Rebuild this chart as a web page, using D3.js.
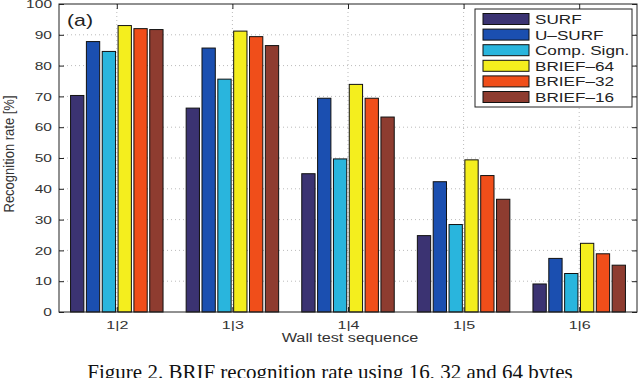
<!DOCTYPE html>
<html><head><meta charset="utf-8">
<script src="https://cdn.jsdelivr.net/npm/d3@7"></script>
<style>body{margin:0;background:#fff}svg{display:block}</style>
</head><body>
<svg id="c" width="640" height="378"></svg>
<script>
const categories = ["1|2","1|3","1|4","1|5","1|6"];
const seriesNames = ["SURF","U\u2013SURF","Comp. Sign.","BRIEF\u201364","BRIEF\u201332","BRIEF\u201316"];
const surf    = [70.3, 66.2, 44.9, 24.8, 9.1];
const usurf   = [87.8, 85.7, 69.4, 42.3, 17.4];
const comp    = [84.6, 75.6, 49.7, 28.4, 12.5];
const brief64 = [93.0, 91.2, 73.9, 49.4, 22.3];
const brief32 = [92.0, 89.4, 69.4, 44.3, 18.9];
const brief16 = [91.7, 86.5, 63.3, 36.6, 15.2];
const yTicks = [0,10,20,30,40,50,60,70,80,90,100];
const colors = ["#3b3372","#1b4fb0","#29b5dd","#f4ee1e","#f04e1a","#8e3c30"];
const series = [surf, usurf, comp, brief64, brief32, brief16];

const SANS = "Liberation Sans, Arial, Helvetica, sans-serif";
function stretch(sel, k) {
  sel.each(function () {
    const w = this.getComputedTextLength();
    this.setAttribute("textLength", w * k);
    this.setAttribute("lengthAdjust", "spacingAndGlyphs");
  });
}

const svg = d3.select("#c");
const L = 59, R = 637, T = 4, B = 312;
const xc = d3.scalePoint().domain(categories).range([L, R]).padding(0.5);
const y = d3.scaleLinear().domain([0,100]).range([B, T]);
const groupW = (R - L) / categories.length * 0.8;
const xs = d3.scaleBand().domain(d3.range(series.length)).range([-groupW/2, groupW/2]).paddingInner(0.16);

// grid
const g = svg.append("g");
g.selectAll("line.hg").data(yTicks.slice(1, -1)).join("line")
  .attr("x1", L).attr("x2", R).attr("y1", d => y(d)).attr("y2", d => y(d))
  .attr("stroke", "#bbb").attr("stroke-width", 1).attr("stroke-dasharray", "1,3");
g.selectAll("line.vg").data(categories).join("line")
  .attr("x1", d => xc(d)).attr("x2", d => xc(d)).attr("y1", T).attr("y2", B)
  .attr("stroke", "#bbb").attr("stroke-width", 1).attr("stroke-dasharray", "1,3");

// bars
series.forEach((s, i) => {
  svg.append("g").selectAll("rect").data(s).join("rect")
    .attr("x", (d, j) => xc(categories[j]) + xs(i))
    .attr("width", xs.bandwidth())
    .attr("y", d => y(d))
    .attr("height", d => y(0) - y(d))
    .attr("fill", colors[i]).attr("stroke", "#111").attr("stroke-width", 1);
});

// axes frame
svg.append("rect").attr("x", L).attr("y", T).attr("width", R - L).attr("height", B - T)
  .attr("fill", "none").attr("stroke", "#222").attr("stroke-width", 1);

const ya = svg.append("g").attr("transform", `translate(${L},0)`)
  .call(d3.axisLeft(y).tickValues(yTicks).tickSize(-5).tickPadding(7));
ya.select(".domain").remove();
ya.selectAll("text").attr("font-family", SANS).attr("font-size", 11.5).attr("fill", "#333");
ya.selectAll("line").attr("stroke", "#222");
stretch(ya.selectAll("text"), 1.35);
const yr = svg.append("g").attr("transform", `translate(${R},0)`)
  .call(d3.axisRight(y).tickValues(yTicks).tickSize(-5).tickFormat(""));
yr.select(".domain").remove(); yr.selectAll("line").attr("stroke", "#222");

const xa = svg.append("g").attr("transform", `translate(0,${B})`)
  .call(d3.axisBottom(xc).tickSize(-5).tickPadding(9));
xa.select(".domain").remove();
xa.selectAll("text").attr("font-family", SANS).attr("font-size", 11.5).attr("fill", "#333");
xa.selectAll("line").attr("stroke", "#222");
stretch(xa.selectAll("text"), 1.4);
const xt = svg.append("g").attr("transform", `translate(0,${T})`)
  .call(d3.axisTop(xc).tickSize(-5).tickFormat(""));
xt.select(".domain").remove(); xt.selectAll("line").attr("stroke", "#222");

// labels
const xl = svg.append("text").attr("x", 350).attr("y", 342).attr("text-anchor", "middle")
  .attr("font-family", SANS).attr("font-size", 12.5).attr("fill", "#333").text("Wall test sequence");
stretch(xl, 1.3);
svg.append("text").attr("transform", "translate(14,154) scale(1.1,1) rotate(-90)").attr("text-anchor", "middle")
  .attr("font-family", SANS).attr("font-size", 13).attr("fill", "#333").text("Recognition rate [%]");
const al = svg.append("text").attr("x", 67).attr("y", 26).attr("font-family", SANS).attr("font-size", 17)
  .attr("fill", "#222").text("(a)");
stretch(al, 1.25);

// legend
const lg = svg.append("g");
lg.append("rect").attr("x", 475).attr("y", 9).attr("width", 157).attr("height", 98)
  .attr("fill", "#fff").attr("stroke", "#222").attr("stroke-width", 1);
seriesNames.forEach((n, i) => {
  const cy = 19 + i * 15.6;
  lg.append("rect").attr("x", 483).attr("y", cy - 5.5).attr("width", 46).attr("height", 11)
    .attr("fill", colors[i]).attr("stroke", "#111");
  const t = lg.append("text").attr("x", 535).attr("y", cy + 5).attr("font-family", SANS)
    .attr("font-size", 12.5).attr("fill", "#222").text(n);
  stretch(t, 1.37);
});

// caption
svg.append("text").attr("x", 330).attr("y", 379).attr("text-anchor", "middle")
  .attr("font-family", "Liberation Serif, Times New Roman, serif").attr("font-size", 21).attr("fill", "#111")
  .text("Figure 2. BRIF recognition rate using 16, 32 and 64 bytes");
</script>
</body></html>
